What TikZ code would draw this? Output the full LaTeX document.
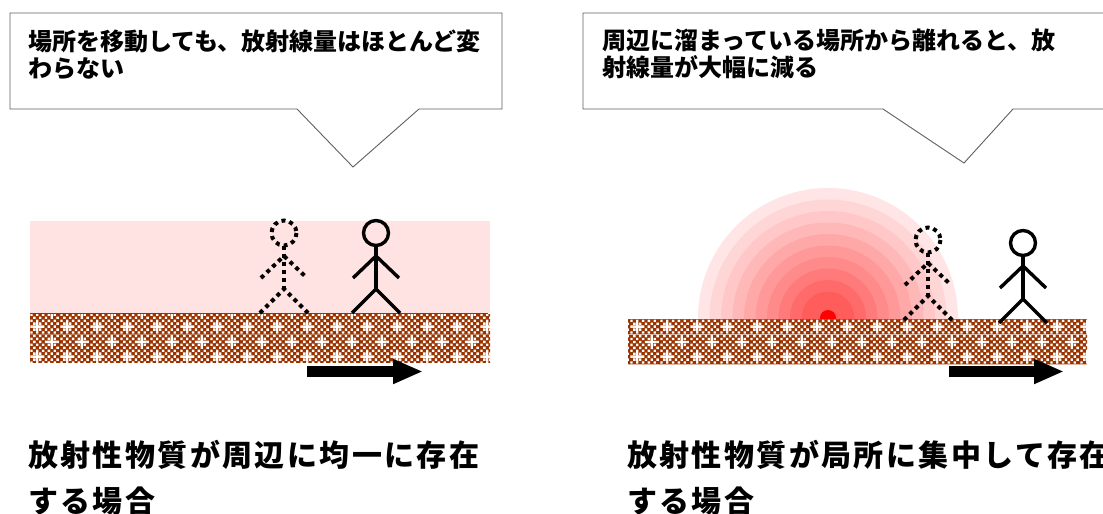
\documentclass[tikz,border=0pt]{standalone}
\usepackage{fontspec}
\newfontfamily\jpfont{Noto Sans CJK JP}
\usetikzlibrary{arrows.meta,patterns.meta}

\definecolor{soil}{RGB}{153,51,0}
\definecolor{haze}{RGB}{255,226,226}
\definecolor{balloonline}{RGB}{95,95,95}

\tikzdeclarepattern{
  name=soilgrid,
  type=colored,
  bottom left={(0pt,0pt)},
  top right={(30pt,30pt)},
  tile size={(30pt,30pt)},
  code={
    \fill[soil] (0pt,0pt) rectangle (30pt,30pt);
    \foreach \i in {0,...,4}
      \foreach \j in {0,...,4} {
        \fill[white] ({6*\i*1pt+0.3pt},{6*\j*1pt+0.3pt}) rectangle ++(2.4pt,2.4pt);
        \fill[white] ({6*\i*1pt+3.3pt},{6*\j*1pt+3.3pt}) rectangle ++(2.4pt,2.4pt);
      }
    \draw[white,line width=2.4pt] (2.5pt,7.5pt) -- (12.5pt,7.5pt) (7.5pt,2.5pt) -- (7.5pt,12.5pt);
    \draw[white,line width=2.4pt] (17.5pt,22.5pt) -- (27.5pt,22.5pt) (22.5pt,17.5pt) -- (22.5pt,27.5pt);
  }
}

\tikzset{
  balloon/.style={draw=balloonline,fill=white,line width=0.9pt,line join=miter},
  calltext/.style={anchor=north west,inner sep=0pt,align=left,
    font=\jpfont\bfseries\fontsize{24}{27}\selectfont},
  casetext/.style={anchor=north west,inner sep=0pt,align=left,
    font=\jpfont\bfseries\fontsize{30}{46}\selectfont\addfontfeatures{LetterSpace=8}},
  ground/.style={pattern=soilgrid},
  fatarrow/.style={line width=11pt,-{Triangle[length=30pt,width=23pt]}},
  solidman/.style={line width=3.4pt},
  ghostman/.style={line width=4pt,dash pattern=on 4pt off 4pt},
  walker/.pic={
    \draw (0,-80) circle[radius=12.5];
    \draw (0,-67.5) -- (0,-24);
    \draw (-23,-35) -- (0,-57) -- (23,-35);
    \draw (-24,0) -- (0,-24) -- (24,0);
  }
}

\begin{document}
\begin{tikzpicture}[x=1pt,y=-1pt]
  \useasboundingbox (0,0) rectangle (1103,514);
  \clip (0,0) rectangle (1103,514);

  % uniform case
  \draw[balloon] (10,13) -- (502,13) -- (502,109) -- (419,109) -- (353,167)
    -- (297,109) -- (10,109) -- cycle;
  \node[calltext] (lefttext) at (28,30) {場所を移動しても、放射線量はほとんど変\\わらない};

  \fill[haze] (30,221) rectangle (490,313);
  \fill[ground] (30,314.5) rectangle (490,362);
  \draw[red,line width=1.5pt] (30,313.5) -- (488,313.5);
  \pic[ghostman] at (284,313) {walker};
  \pic[solidman] at (376,313) {walker};
  \coordinate (leftfrom) at (307,371.5);
  \coordinate (leftto) at (423,371.5);
  \draw[fatarrow] (leftfrom) -- (leftto);

  \node[casetext] (leftcase) at (28,440) {放射性物質が周辺に均一に存在\\する場合};

  % local case
  \draw[balloon] (583,13) -- (1120,13) -- (1120,109) -- (1013,109) -- (964,163)
    -- (883,109) -- (583,109) -- cycle;
  \node[calltext] (righttext) at (602,29) {周辺に溜まっている場所から離れると、放\\射線量が大幅に減る};

  \begin{scope}
    \clip (680,170) rectangle (980,319);
    \foreach \i in {0,...,9} {
      \pgfmathsetmacro\rr{130-11.5*\i}
      \pgfmathtruncatemacro\shade{10+6*\i}
      \fill[red!\shade] (828,318) circle[radius=\rr];
    }
  \end{scope}
  \fill[red] (828,318) circle[radius=8];
  \fill[ground] (628,319) rectangle (1087,364);
  \pic[ghostman] at (928,320) {walker};
  \pic[solidman] at (1023,323) {walker};
  \coordinate (rightfrom) at (949,371.5);
  \coordinate (rightto) at (1064,371.5);
  \draw[fatarrow] (rightfrom) -- (rightto);

  \node[casetext] (rightcase) at (627,440) {放射性物質が局所に集中して存在\\する場合};
\end{tikzpicture}
\end{document}
